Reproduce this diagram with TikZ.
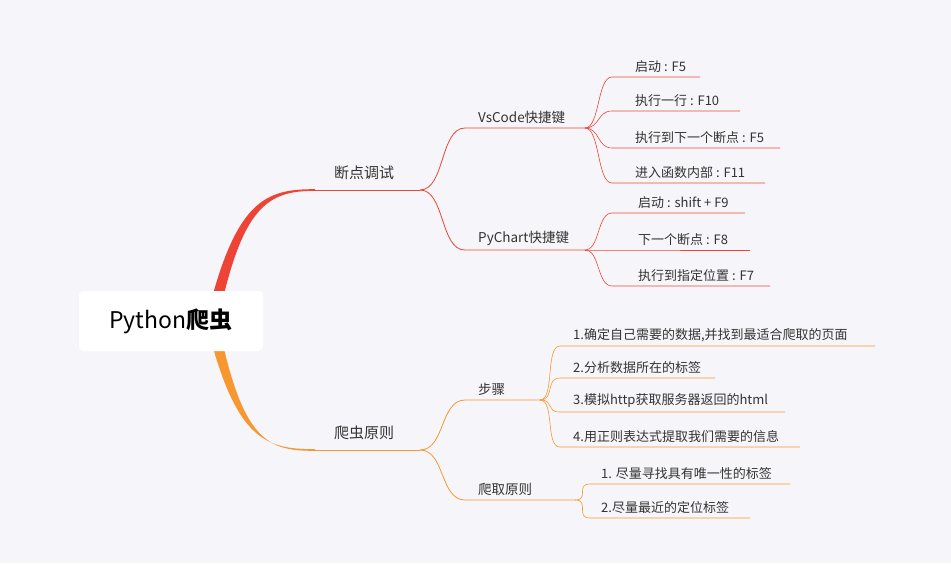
\documentclass[tikz,border=0pt]{standalone}
\usepackage{fontspec}
\usetikzlibrary{calc}
\setmainfont{Noto Sans CJK SC}
\begin{document}
\begin{tikzpicture}[x=1pt,y=-1pt,
  lbl/.style={anchor=south west,inner sep=0pt,font=\fontsize{13}{15}\selectfont,text=black!80},
  br/.style={line width=0.8pt}]
\definecolor{rd}{HTML}{EE4436}\definecolor{og}{HTML}{F7972F}\definecolor{bg}{HTML}{F6F6FA}
\fill[bg] (0,0) rectangle (951,563);
\useasboundingbox (0,0) rectangle (951,563);
% main thick branches
\fill[rd] (206,321) .. controls (235,200) and (265,189) .. (315,189.2) -- (315,190.8) .. controls (268,191) and (242,205) .. (218,321) -- cycle;
\fill[og] (206,321) .. controls (235,440) and (265,449.2) .. (315,449.2) -- (315,450.8) .. controls (268,451) and (242,442) .. (218,321) -- cycle;
\node[fill=white,rounded corners=4pt,minimum width=184pt,minimum height=60pt,font=\fontsize{23}{26}\selectfont] (root) at (171,321) {Python\textbf{爬虫}};
% level 1
\coordinate (a1) at (315,190); \coordinate (a2) at (420,190);
\coordinate (b1) at (315,450); \coordinate (b2) at (420,450);
\draw[rd,br] (a1)--(a2); \draw[og,br] (b1)--(b2);
\node[lbl,font=\fontsize{15}{17}\selectfont] (A) at (334,180) {断点调试};
\node[lbl,font=\fontsize{15}{17}\selectfont] (B) at (334,440) {爬虫原则};
% level 2
\foreach \n/\y/\xe/\t/\c/\p in {v/128/585/VsCode快捷键/rd/a2, p/250/585/PyChart快捷键/rd/a2, s/400/540/步骤/og/b2, c/500/575/爬取原则/og/b2}{
  \coordinate (\n1) at (465,\y); \coordinate (\n2) at (\xe,\y);
  \draw[\c,br] (\p) .. controls ($(\p)+(25,0)$) and ($(\n1)+(-25,0)$) .. (\n1) -- (\n2);
  \node[lbl,font=\fontsize{13.5}{15}\selectfont] (\n) at (478,\y-4) {\t};
}
% leaves
\foreach \n/\p/\xs/\y/\xe/\t/\c/\o in {
 l1/v2/612/77/700/{启动 : F5}/rd/23,
 l2/v2/612/111/740/{执行一行 : F10}/rd/23,
 l3/v2/612/148/780/{执行到下一个断点 : F5}/rd/23,
 l4/v2/612/183/765/{进入函数内部 : F11}/rd/23,
 m1/p2/612/213/745/{启动 : shift + F9}/rd/26,
 m2/p2/612/250/750/{下一个断点 : F8}/rd/26,
 m3/p2/612/286/770/{执行到指定位置 : F7}/rd/26,
 s1/s2/560/346/875/{1.确定自己需要的数据,并找到最适合爬取的页面}/og/13,
 s2x/s2/560/378/715/{2.分析数据所在的标签}/og/13,
 s3/s2/560/412/785/{3.模拟http获取服务器返回的html}/og/13,
 s4/s2/560/447/800/{4.用正则表达式提取我们需要的信息}/og/13,
 c1/c2/590/484/790/{1. 尽量寻找具有唯一性的标签}/og/11,
 c2x/c2/590/518/750/{2.尽量最近的定位标签}/og/11}{
  \coordinate (\n a) at (\xs,\y); \coordinate (\n b) at (\xe,\y);
  \draw[\c,line width=0.6pt] (\p) .. controls ($(\p)+(15,0)$) and ($(\n a)+(-15,0)$) .. (\n a) -- (\n b);
  \node[lbl] (\n) at (\xs+\o,\y-4) {\t};
}
\end{tikzpicture}
\end{document}
